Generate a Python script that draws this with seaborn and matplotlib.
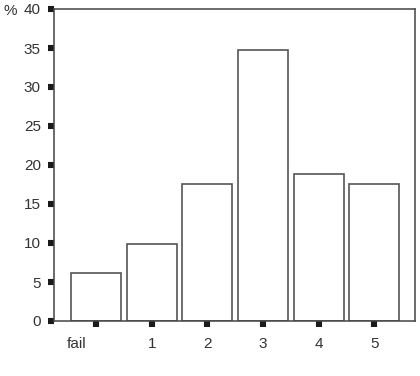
import matplotlib
matplotlib.use("Agg")
import matplotlib.pyplot as plt
import matplotlib.transforms as mtransforms
import seaborn as sns
import pandas as pd

categories = ["fail", "1", "2", "3", "4", "5"]
percent = [6.1, 9.9, 17.6, 34.8, 18.9, 17.6]
yticks = [0, 5, 10, 15, 20, 25, 30, 35, 40]

sns.set_theme(style="white")
plt.rcParams["font.family"] = ["Liberation Sans", "DejaVu Sans"]

df = pd.DataFrame({"grade": categories, "pct": percent})

fig = plt.figure(figsize=(4.2, 3.76), dpi=100)
ax = fig.add_axes([54/420, 1 - 321/376, (415 - 54)/420, (321 - 9)/376])

sns.barplot(data=df, x="grade", y="pct", order=categories, ax=ax,
            color="white", edgecolor="#555555", linewidth=1.2, width=0.9,
            saturation=1)

ax.set_xlim(-0.755, 5.73)
ax.set_ylim(0, 40)
ax.set_yticks(yticks)
ax.set_yticklabels([str(v) for v in yticks])
ax.set_xlabel("")
ax.set_ylabel("")

for s in ax.spines.values():
    s.set_visible(True)
    s.set_color("#444444")
    s.set_linewidth(1.1)

ax.tick_params(axis="both", which="major", direction="out",
               length=4.4, width=4.4, color="#1a1a1a",
               labelsize=11, labelcolor="#333333")
ax.tick_params(axis="x", pad=7)
ax.tick_params(axis="y", pad=5)
ax.tick_params(left=True, bottom=True)

# shift the "fail" label left as in the reference
lbl = ax.get_xticklabels()[0]
lbl.set_transform(lbl.get_transform() + mtransforms.ScaledTranslation(-19/100, 0, fig.dpi_scale_trans))

fig.text(3/420, 1 - 11/376, "%", fontsize=11, color="#333333", va="center", ha="left")

fig.savefig("out.png", dpi=100, facecolor="white")
